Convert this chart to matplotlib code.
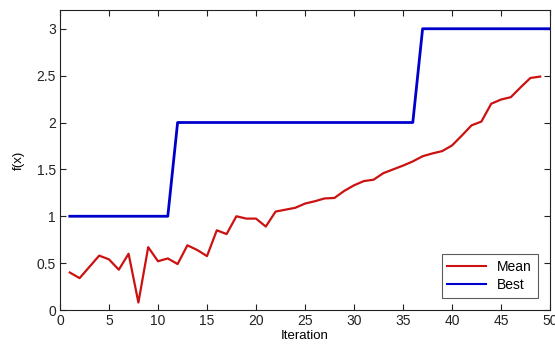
import matplotlib
matplotlib.use("Agg")
import matplotlib.pyplot as plt

plt.rcParams['font.family'] = ['Liberation Sans', 'DejaVu Sans']

# population statistics per iteration
iters_mean = list(range(1, 50))
mean_f = [0.40, 0.34, 0.46, 0.58, 0.54, 0.43, 0.60, 0.08, 0.67, 0.52,
          0.55, 0.49, 0.69, 0.64, 0.575, 0.85, 0.81, 1.00, 0.975, 0.975,
          0.89, 1.05, 1.07, 1.09, 1.135, 1.16, 1.19, 1.195, 1.27, 1.33,
          1.375, 1.39, 1.46, 1.50, 1.54, 1.585, 1.64, 1.67, 1.695, 1.755,
          1.86, 1.97, 2.01, 2.20, 2.245, 2.27, 2.375, 2.475, 2.49]

iters_best = list(range(1, 51))
best_f = [1] * 11 + [2] * 25 + [3] * 14

fig = plt.figure(figsize=(5.55, 3.51), dpi=100)
ax = fig.add_axes([60 / 555, 41 / 351, 490 / 555, 300 / 351])

ax.plot(iters_mean, mean_f, color='#cc1111', lw=1.6, label='Mean')
ax.plot(iters_best, best_f, color='#0000cc', lw=2.0, label='Best')

ax.set_xlim(0, 50)
ax.set_ylim(0, 3.2)
ax.set_xticks(range(0, 51, 5))
ax.set_yticks([0, 0.5, 1, 1.5, 2, 2.5, 3])
ax.set_yticklabels(['0', '0.5', '1', '1.5', '2', '2.5', '3'])
ax.tick_params(direction='in', top=True, right=True, length=4,
               labelsize=10, colors='#222222', pad=3)
for s in ax.spines.values():
    s.set_color('#222222')
    s.set_linewidth(0.8)

ax.set_xlabel('Iteration', fontsize=9.5, labelpad=1)
ax.set_ylabel('f(x)', fontsize=9.5, labelpad=8)

leg = ax.legend(loc='lower right', fontsize=10, frameon=True, fancybox=False,
                handlelength=2.8, borderaxespad=0.9, labelspacing=0.3)
leg.get_frame().set_edgecolor('#333333')
leg.get_frame().set_linewidth(0.8)
for h in leg.get_lines():
    h.set_linewidth(1.5)

fig.savefig('out.png', dpi=100)
